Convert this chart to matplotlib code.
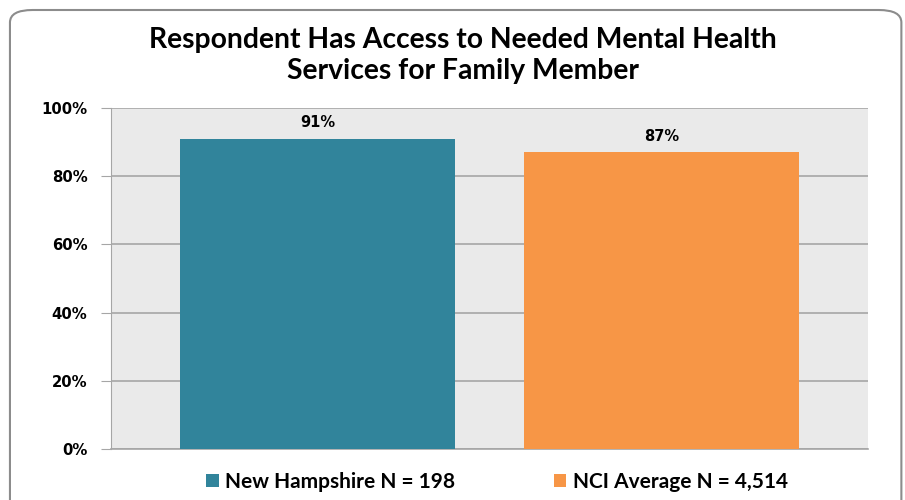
import matplotlib.pyplot as plt
from matplotlib.patches import FancyBboxPatch, Patch
from matplotlib.ticker import PercentFormatter

# -----------------------------
# Data
# -----------------------------
groups = ["New Hampshire N = 198", "NCI Average N = 4,514"]
values = [91, 87]
colors = ["#31849B", "#F79646"]
title = "Respondent Has Access to Needed Mental Health\nServices for Family Member"

# -----------------------------
# Figure
# -----------------------------
fig = plt.figure(figsize=(9.05, 5.0), dpi=100)

# rounded outer frame
frame = FancyBboxPatch((0.011, -0.05), 0.985, 1.03,
                       boxstyle="round,pad=0,rounding_size=0.025",
                       transform=fig.transFigure, facecolor="white",
                       edgecolor="#8C8C8C", linewidth=1.5, zorder=-1)
fig.patches.append(frame)

ax = fig.add_axes([0.1227, 0.102, 0.8365, 0.682])
ax.set_facecolor("#EAEAEA")

x = range(len(values))
bars = ax.bar(x, values, width=0.8, color=colors, zorder=3)

for rect, v in zip(bars, values):
    ax.text(rect.get_x() + rect.get_width() / 2, v + 2.5, f"{v}%",
            ha="center", va="bottom", fontsize=10.5, fontweight="bold",
            family="DejaVu Sans", zorder=4)

ax.set_xlim(-0.6, 1.6)
ax.set_ylim(0, 100)
ax.set_yticks(range(0, 101, 20))
ax.yaxis.set_major_formatter(PercentFormatter(decimals=0))
ax.set_xticks([])
ax.grid(axis="y", color="#A6A6A6", linewidth=1.2, zorder=1)

for s in ["top", "right"]:
    ax.spines[s].set_visible(False)
ax.spines["left"].set_color("#A6A6A6")
ax.spines["bottom"].set_color("#A6A6A6")
ax.spines["bottom"].set_linewidth(1.2)
ax.tick_params(axis="y", length=7, color="#A6A6A6", pad=10)
for lbl in ax.get_yticklabels():
    lbl.set_fontweight("bold")
    lbl.set_fontsize(10.7)

fig.text(0.512, 0.889, title, ha="center", va="center", fontsize=20.3,
         fontweight="bold", family="Lato", linespacing=1.2)

handles = [Patch(facecolor=c, label=g) for c, g in zip(colors, groups)]
fig.legend(handles=handles, loc="center", bbox_to_anchor=(0.549, 0.036),
           ncol=2, frameon=False, handlelength=0.6, handleheight=0.6,
           handletextpad=0.3, columnspacing=4.75,
           prop={"family": "Lato", "weight": "bold", "size": 15})

fig.savefig("out.png", dpi=100)
